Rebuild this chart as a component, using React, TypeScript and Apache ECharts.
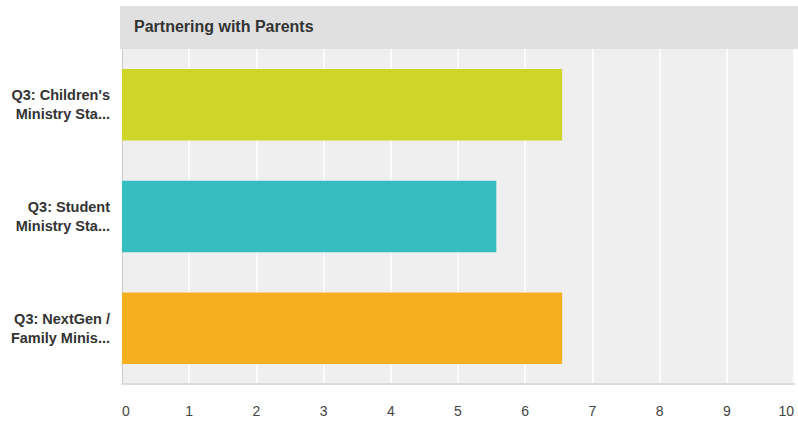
import React, { useEffect, useRef } from "react";
import * as echarts from "echarts";

const title = "Partnering with Parents";
const categories = [
  "Q3: Children's\nMinistry Sta...",
  "Q3: Student\nMinistry Sta...",
  "Q3: NextGen /\nFamily Minis...",
];
const values = [6.55, 5.57, 6.55];
const colors = ["#cfd628", "#35bdbf", "#f6b01f"];
const xTicks = [0, 10, 1];

const FONT = "'Liberation Sans', Arial, sans-serif";

export default function App() {
  const ref = useRef<HTMLDivElement>(null);
  useEffect(() => {
    document.body.style.margin = "0";
    const chart = echarts.init(ref.current!, null, { renderer: "svg" });
    chart.setOption({
      animation: false,
      textStyle: { fontFamily: FONT },
      grid: {
        left: 122,
        right: 4,
        top: 49,
        bottom: 40,
        show: true,
        backgroundColor: "#efefef",
        borderWidth: 0,
      },
      graphic: [
        {
          type: "rect",
          left: 120,
          top: 6,
          shape: { width: 678, height: 43 },
          style: { fill: "#e0e0e0" },
          silent: true,
        },
        {
          type: "text",
          x: 134,
          y: 26,
          style: {
            text: title,
            fontFamily: FONT,
            fontSize: 16,
            fontWeight: "bold",
            fill: "#333333",
            verticalAlign: "middle",
          },
        },
      ],
      xAxis: {
        type: "value",
        min: xTicks[0],
        max: xTicks[1],
        interval: xTicks[2],
        axisLine: { show: true, lineStyle: { color: "#dcdcdc", width: 2 } },
        axisTick: { show: false },
        axisLabel: {
          color: "#444444",
          fontSize: 14,
          margin: 20,
          alignMinLabel: "left",
          alignMaxLabel: "right",
        },
        splitLine: { show: true, lineStyle: { color: "#ffffff", width: 1.5 } },
      },
      yAxis: {
        type: "category",
        data: categories,
        inverse: true,
        axisLine: { show: true, lineStyle: { color: "#cccccc", width: 1 } },
        axisTick: { show: false },
        axisLabel: {
          color: "#333333",
          fontSize: 14.5,
          fontWeight: "bold",
          lineHeight: 19,
          margin: 12,
          align: "right",
        },
      },
      series: [
        {
          type: "bar",
          data: values.map((v, i) => ({ value: v, itemStyle: { color: colors[i] } })),
          barCategoryGap: "36%",
        },
      ],
    });
    return () => chart.dispose();
  }, []);
  return <div ref={ref} style={{ width: 798, height: 424 }} />;
}
